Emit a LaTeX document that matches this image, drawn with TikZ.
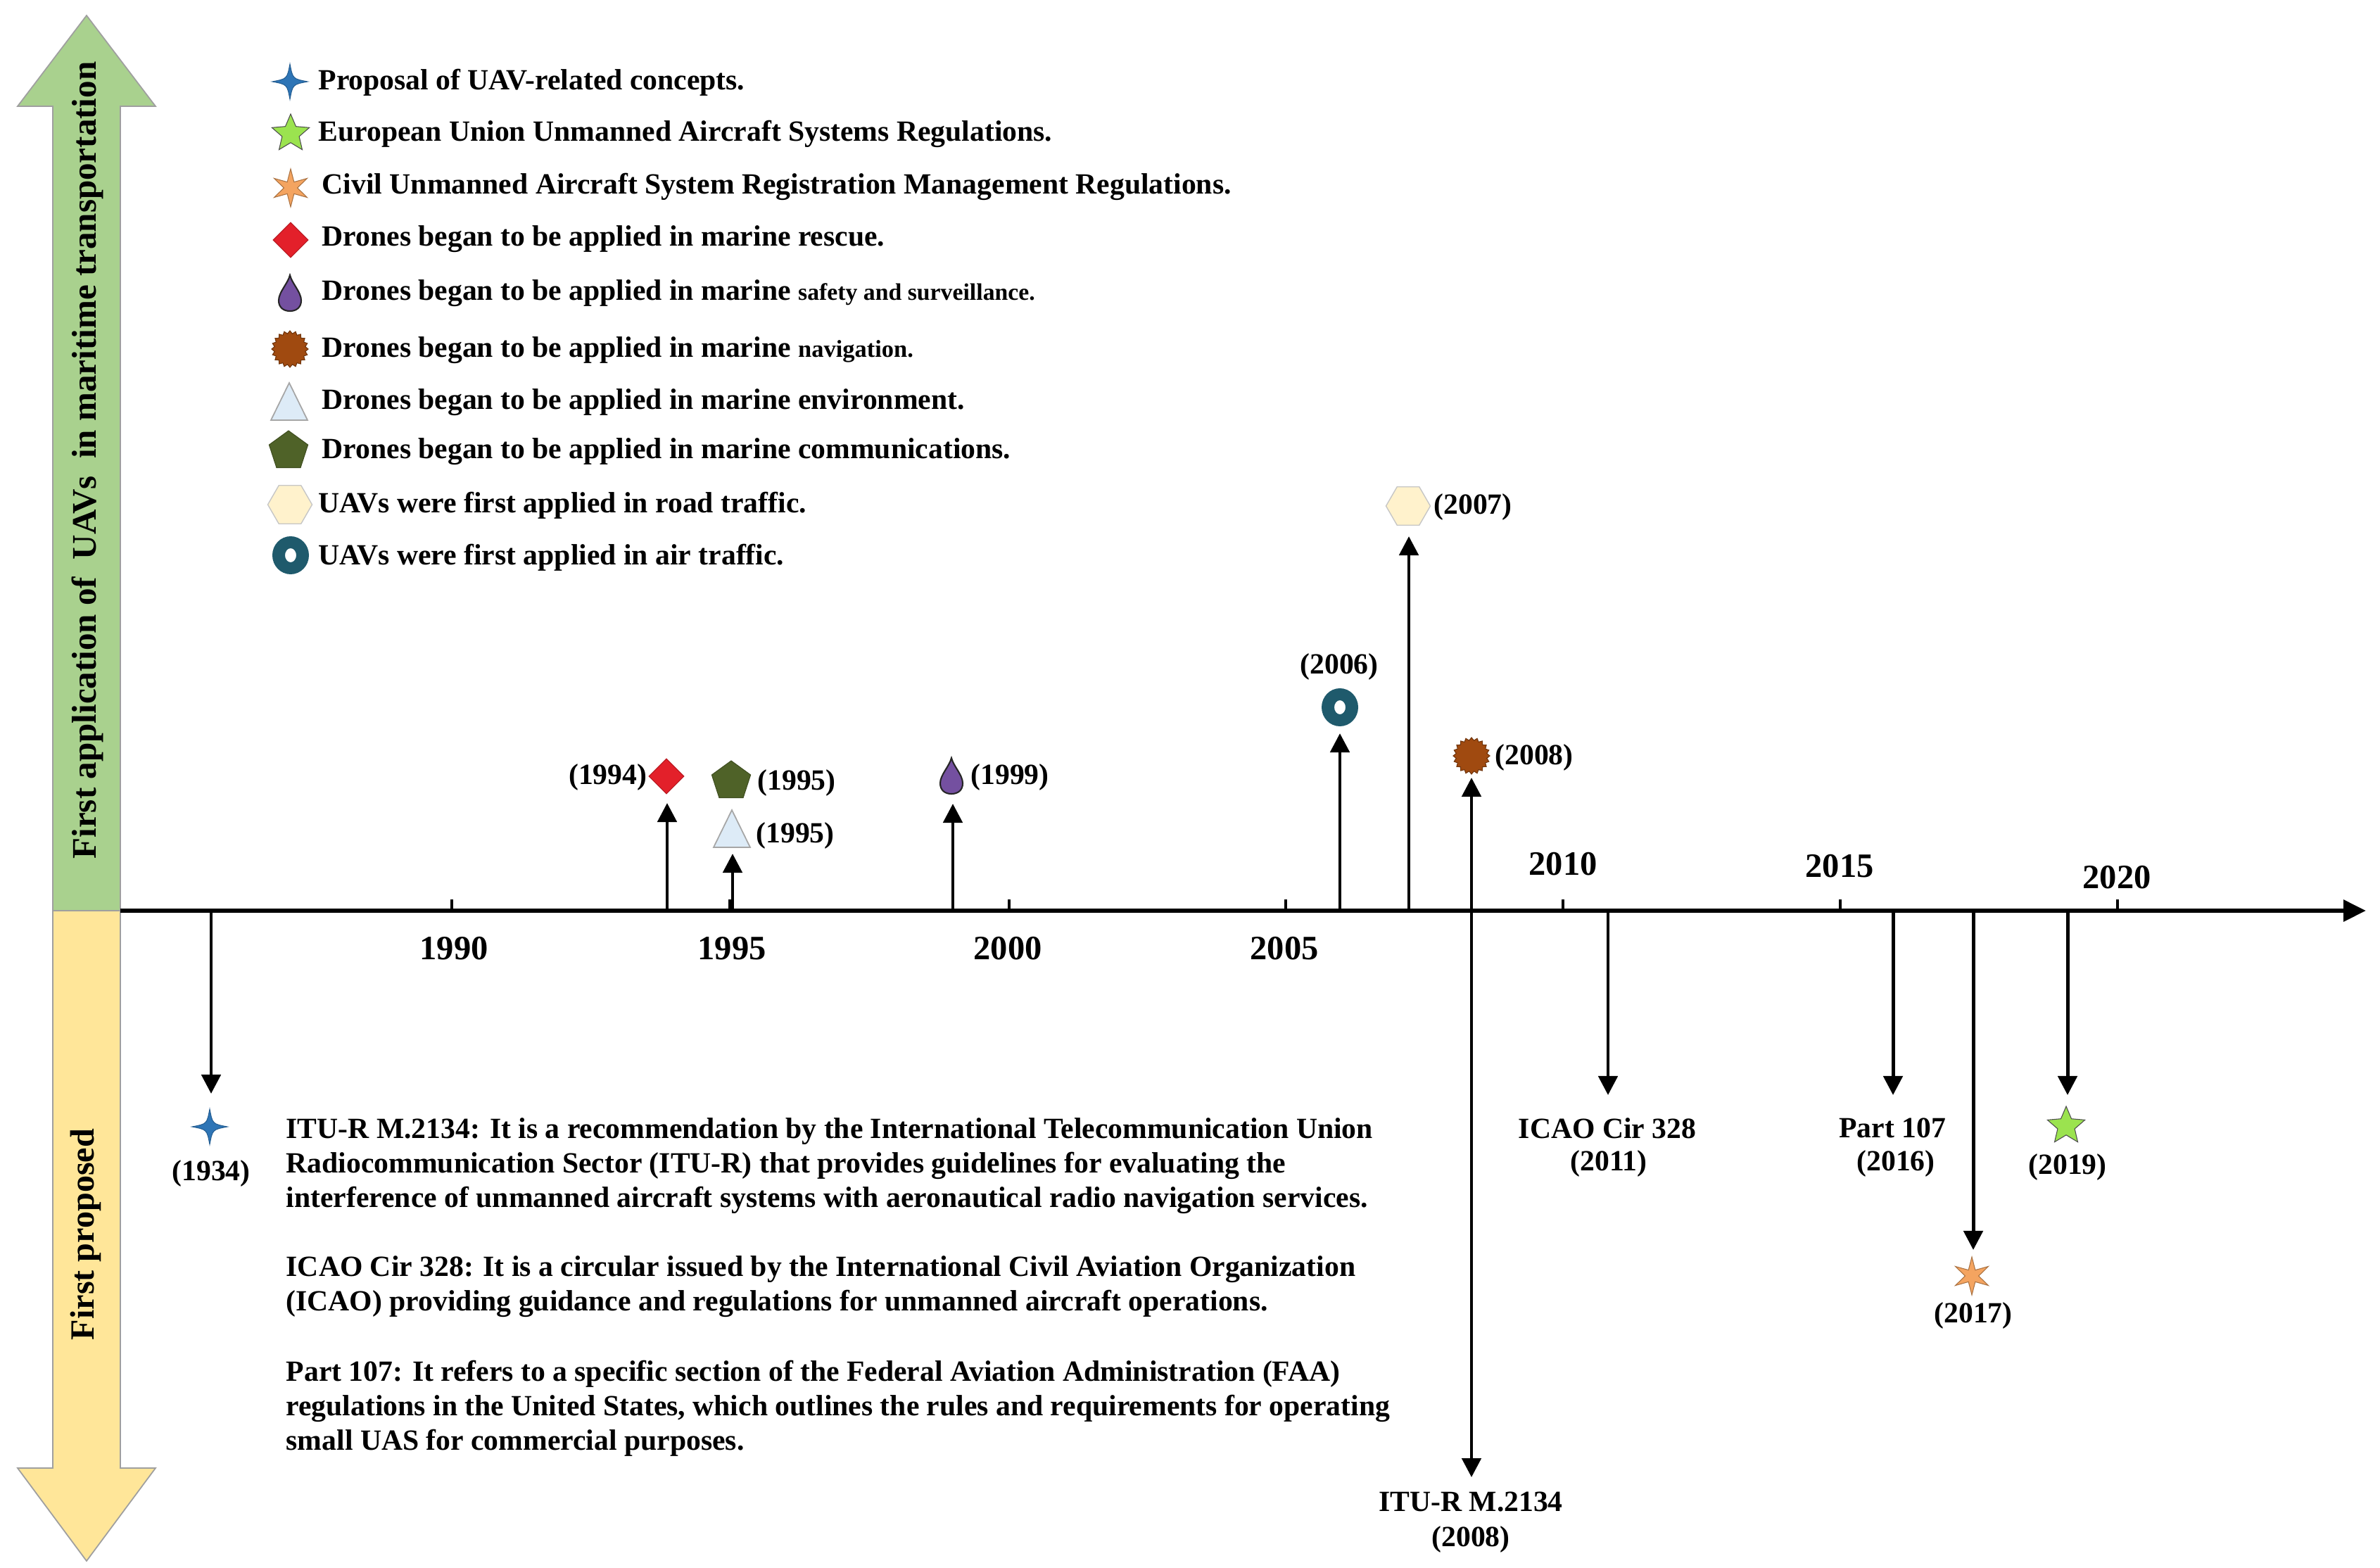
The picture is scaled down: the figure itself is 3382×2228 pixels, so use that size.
\documentclass[tikz,border=0pt]{standalone}
\usepackage{fontspec}
\setmainfont{Liberation Serif}
\usetikzlibrary{arrows.meta,shapes.geometric}
\definecolor{cgreenarrow}{HTML}{A9D18E}
\definecolor{cyellowarrow}{HTML}{FFE699}
\definecolor{cblue}{HTML}{2E75B6}
\definecolor{clime}{HTML}{9BE34F}
\definecolor{corange}{HTML}{F4A460}
\definecolor{cred}{HTML}{E3202A}
\definecolor{cpurple}{HTML}{7450A0}
\definecolor{cbrown}{HTML}{A04A10}
\definecolor{cice}{HTML}{DDEBF7}
\definecolor{colive}{HTML}{4F6228}
\definecolor{ccream}{HTML}{FFF2CC}
\definecolor{cteal}{HTML}{1F5A6C}
\tikzset{
  lab/.style={font=\fontsize{11.85}{14}\selectfont\bfseries, inner sep=0pt},
  leg/.style={lab, anchor=west},
  para/.style={lab, anchor=base west},
  yr/.style={font=\fontsize{13.8}{16}\selectfont\bfseries, inner sep=0pt},
  vt/.style={font=\fontsize{13.7}{16}\selectfont\bfseries, rotate=90, inner sep=0pt},
  arr/.style={line width=1.4pt, -{Triangle[length=0.27cm, width=0.27cm]}},
  axisline/.style={line width=1.7pt, -{Triangle[length=0.32cm, width=0.30cm]}},
  tick/.style={line width=1pt},
  bigarrow/.style={draw=gray!75, line width=0.5pt},
  mdiam/.style={diamond, fill=cred, draw=cred!80!black, line width=0.3pt, minimum width=0.5cm, minimum height=0.5cm, inner sep=0pt},
  mpent/.style={regular polygon, regular polygon sides=5, fill=colive, draw=colive!80!black, line width=0.3pt, minimum size=0.58cm, inner sep=0pt},
  mhex/.style={regular polygon, regular polygon sides=6, fill=ccream, draw=gray!45, line width=0.4pt, minimum size=0.63cm, inner sep=0pt},
  mstarfive/.style={star, star points=5, star point ratio=2.2, fill=clime, draw=gray!60!black, line width=0.3pt, minimum size=0.56cm, inner sep=0pt},
  mstarsix/.style={star, star points=6, star point ratio=2.8, fill=corange, draw=corange!70!black, line width=0.3pt, minimum size=0.54cm, inner sep=0pt},
  msun/.style={star, star points=20, star point ratio=1.18, fill=cbrown, draw=cbrown!70!black, line width=0.3pt, minimum size=0.52cm, inner sep=0pt},
  pics/mstarfour/.style={code={\filldraw[fill=cblue, draw=cblue!80!black, line width=0.3pt] (0,-25) .. controls (4,-4) .. (25,0) .. controls (4,4) .. (0,25) .. controls (-4,4) .. (-25,0) .. controls (-4,-4) .. cycle;}},
  pics/mdrop/.style={code={\filldraw[fill=cpurple, draw=black!85, line width=0.6pt] (0,-26) .. controls (3,-14) and (16,-2) .. (16,10) .. controls (16,20) and (9,25) .. (0,25) .. controls (-9,25) and (-16,20) .. (-16,10) .. controls (-16,-2) and (-3,-14) .. cycle;}},
  pics/mtri/.style={code={\filldraw[fill=cice, draw=gray!70, line width=0.5pt] (-26,26) -- (0,-27) -- (26,26) -- cycle;}},
  pics/mring/.style={code={\fill[cteal, even odd rule] (0,0) ellipse [x radius=26, y radius=27] (0,0) ellipse [x radius=8, y radius=10];}},
}
\begin{document}
\begin{tikzpicture}[x=0.01cm, y=-0.01cm]
\useasboundingbox (0,0) rectangle (3382,2228);

% left big arrows
\filldraw[bigarrow, fill=cgreenarrow] (75,1294) -- (75,151) -- (25,151) -- (123,22) -- (221,151) -- (171,151) -- (171,1294) -- cycle;
\filldraw[bigarrow, fill=cyellowarrow] (75,1294) -- (75,2086) -- (25,2086) -- (123,2218) -- (221,2086) -- (171,2086) -- (171,1294) -- cycle;
\node[vt, font=\fontsize{13.95}{16}\selectfont\bfseries] (vgreen) at (124,654) {First application of\ \ UAVs\ \ in maritime transportation};
\node[vt] (vyellow) at (122,1754) {First proposed};

% axis
\coordinate (axs) at (171,1294);
\coordinate (axe) at (3362,1294);
\draw[axisline] (axs) -- (axe);

% ticks and year labels
\foreach \tx/\nm in {642/a,1037/b,1434/c,1827/d,2221/e,2615/f,3009/g}{
  \coordinate (tk\nm0) at (\tx,1294);
  \coordinate (tk\nm1) at (\tx,1278);
  \draw[tick] (tk\nm0) -- (tk\nm1);
}
\node[yr] (y1990) at (645,1348) {1990};
\node[yr] (y1995) at (1040,1348) {1995};
\node[yr] (y2000) at (1432,1348) {2000};
\node[yr] (y2005) at (1825,1348) {2005};
\node[yr] (y2010) at (2221,1228) {2010};
\node[yr] (y2015) at (2614,1231) {2015};
\node[yr] (y2020) at (3008,1247) {2020};

% legend
\pic at (412,116) {mstarfour};
\node[mstarfive] (l2) at (413,190) {};
\node[mstarsix] (l3) at (413,267) {};
\node[mdiam] (l4) at (413,341) {};
\pic at (412,417) {mdrop};
\node[msun] (l6) at (412,496) {};
\pic at (411,571) {mtri};
\node[mpent] (l8) at (410,641) {};
\node[mhex] (l9) at (412,717) {};
\pic at (413,789) {mring};

\node[leg] (t1) at (452,117) {Proposal of UAV-related concepts.};
\node[leg] (t2) at (452,190) {European Union Unmanned Aircraft Systems Regulations.};
\node[leg] (t3) at (457,265) {Civil Unmanned Aircraft System Registration Management Regulations.};
\node[leg] (t4) at (457,340) {Drones began to be applied in marine rescue.};
\node[leg] (t5) at (457,417) {Drones began to be applied in marine {\fontsize{9.6}{11}\selectfont safety and surveillance.}};
\node[leg] (t6) at (457,498) {Drones began to be applied in marine {\fontsize{9.8}{11}\selectfont navigation.}};
\node[leg] (t7) at (457,572) {Drones began to be applied in marine environment.};
\node[leg] (t8) at (457,642) {Drones began to be applied in marine communications.};
\node[leg] (t9) at (452,718) {UAVs were first applied in road traffic.};
\node[leg] (t10) at (452,792) {UAVs were first applied in air traffic.};

% events above the axis
\coordinate (b1994) at (948,1294);  \coordinate (e1994) at (948,1141);
\coordinate (b1995) at (1041,1294); \coordinate (e1995) at (1041,1213);
\coordinate (b1999) at (1354,1294); \coordinate (e1999) at (1354,1142);
\coordinate (b2006) at (1904,1294); \coordinate (e2006) at (1904,1042);
\coordinate (b2007) at (2002,1294); \coordinate (e2007) at (2002,762);
\coordinate (b2008) at (2091,1294); \coordinate (e2008) at (2091,1105);
\foreach \yy in {1994,1995,1999,2006,2007,2008}{\draw[arr] (b\yy) -- (e\yy);}

\node[mdiam] (m1994) at (947,1103) {};
\node[lab, anchor=east] (n1994) at (920,1104) {(1994)};
\node[mpent] (m1995a) at (1039,1110) {};
\node[lab] (n1995a) at (1132,1112) {(1995)};
\pic at (1040,1178) {mtri};
\node[lab] (n1995b) at (1130,1187) {(1995)};
\pic at (1352,1103) {mdrop};
\node[lab] (n1999) at (1435,1104) {(1999)};
\pic at (1904,1005) {mring};
\node[lab] (n2006) at (1903,947) {(2006)};
\node[mhex] (m2007) at (2001,719) {};
\node[lab] (n2007) at (2093,720) {(2007)};
\node[msun] (m2008) at (2091,1074) {};
\node[lab] (n2008) at (2180,1076) {(2008)};

% events below the axis
\coordinate (d1934a) at (300,1294);  \coordinate (d1934b) at (300,1554);
\coordinate (d2008a) at (2091,1294); \coordinate (d2008b) at (2091,2099);
\coordinate (d2011a) at (2285,1294); \coordinate (d2011b) at (2285,1556);
\coordinate (d2016a) at (2690,1294); \coordinate (d2016b) at (2690,1556);
\coordinate (d2017a) at (2804,1294); \coordinate (d2017b) at (2804,1776);
\coordinate (d2019a) at (2938,1294); \coordinate (d2019b) at (2938,1556);
\foreach \yy in {1934,2008,2011,2016,2017,2019}{\draw[arr] (d\yy a) -- (d\yy b);}

\pic at (298,1601) {mstarfour};
\node[lab] (n1934) at (300,1667) {(1934)};
\node[lab] (itu) at (2090,2134) {ITU-R M.2134};
\node[lab] (n2008b) at (2090,2187) {(2008)};
\node[lab] (icao) at (2284,1603) {ICAO Cir 328};
\node[lab] (n2011) at (2286,1653) {(2011)};
\node[lab] (part) at (2689,1603) {Part 107};
\node[lab] (n2016) at (2694,1653) {(2016)};
\node[mstarsix] (m2017) at (2802,1813) {};
\node[lab] (n2017) at (2804,1869) {(2017)};
\node[mstarfive] (m2019) at (2936,1600) {};
\node[lab] (n2019) at (2938,1658) {(2019)};

% explanatory paragraphs
\node[para] (p1) at (406,1617) {ITU-R M.2134: It is a recommendation by the International Telecommunication Union};
\node[para] (p2) at (406,1666) {Radiocommunication Sector (ITU-R) that provides guidelines for evaluating the};
\node[para] (p3) at (406,1715) {interference of unmanned aircraft systems with aeronautical radio navigation services.};
\node[para] (p4) at (406,1813) {ICAO Cir 328: It is a circular issued by the International Civil Aviation Organization};
\node[para] (p5) at (406,1862) {(ICAO) providing guidance and regulations for unmanned aircraft operations.};
\node[para] (p6) at (406,1962) {Part 107: It refers to a specific section of the Federal Aviation Administration (FAA)};
\node[para] (p7) at (406,2011) {regulations in the United States, which outlines the rules and requirements for operating};
\node[para] (p8) at (406,2060) {small UAS for commercial purposes.};
\end{tikzpicture}
\end{document}
